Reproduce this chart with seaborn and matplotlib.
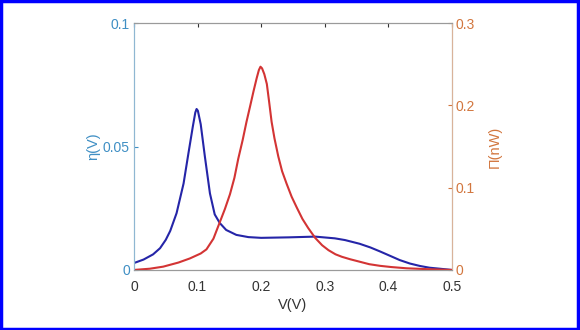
import numpy as np
import pandas as pd
import seaborn as sns
import matplotlib.pyplot as plt
from matplotlib.patches import Rectangle

sns.set_style("white")
plt.rcParams['font.family'] = ['Liberation Sans', 'DejaVu Sans']

# eta(V) curve
v_eta = [0.0, 0.015, 0.03, 0.041, 0.05, 0.057, 0.067, 0.078, 0.0855, 0.0925, 0.0965, 0.0985,
         0.1005, 0.105, 0.1115, 0.1195, 0.127, 0.135, 0.145, 0.161, 0.18, 0.2, 0.243, 0.285,
         0.316, 0.332, 0.355, 0.372, 0.387, 0.403, 0.418, 0.434, 0.45, 0.465, 0.481, 0.5]
eta = [0.0028, 0.0042, 0.0063, 0.0088, 0.0122, 0.0158, 0.023, 0.035, 0.047, 0.058, 0.0638,
       0.0652, 0.0645, 0.059, 0.046, 0.031, 0.0225, 0.019, 0.0162, 0.0142, 0.0133, 0.0130,
       0.0132, 0.0135, 0.0128, 0.0121, 0.0106, 0.0091, 0.0075, 0.0057, 0.004, 0.0026,
       0.0016, 0.0009, 0.0005, 0.0]

# Pi(V) power curve
v_pi = [0.0, 0.025, 0.046, 0.07, 0.088, 0.105, 0.114, 0.125, 0.135, 0.143, 0.151, 0.158,
        0.164, 0.171, 0.177, 0.183, 0.188, 0.193, 0.1965, 0.199, 0.2015, 0.205, 0.209,
        0.2125, 0.2165, 0.221, 0.227, 0.233, 0.24, 0.248, 0.256, 0.265, 0.274, 0.285,
        0.296, 0.306, 0.317, 0.327, 0.34, 0.355, 0.37, 0.387, 0.405, 0.429, 0.46, 0.5]
power = [0.0, 0.0015, 0.004, 0.009, 0.014, 0.02, 0.025, 0.038, 0.058, 0.074, 0.092, 0.112,
         0.135, 0.158, 0.18, 0.2, 0.217, 0.233, 0.243, 0.247, 0.245, 0.238, 0.226,
         0.205, 0.18, 0.16, 0.138, 0.12, 0.105, 0.089, 0.076, 0.062, 0.051, 0.039,
         0.03, 0.024, 0.019, 0.016, 0.013, 0.01, 0.007, 0.005, 0.0035, 0.002, 0.001, 0.0]

df_eta = pd.DataFrame({'V': v_eta, 'eta': eta})
df_pi = pd.DataFrame({'V': v_pi, 'P': power})

left_col = '#3f8fc4'
right_col = '#d2763e'
grey = '#9a9a9a'

fig = plt.figure(figsize=(5.8, 3.3), dpi=100)
ax = fig.add_axes([0.231, 0.182, 0.548, 0.748])
ax2 = ax.twinx()

sns.lineplot(data=df_eta, x='V', y='eta', ax=ax, color='#2525a8', lw=1.5)
sns.lineplot(data=df_pi, x='V', y='P', ax=ax2, color='#d33434', lw=1.5)

ax.set_xlim(0, 0.5)
ax.set_ylim(0, 0.1)
ax2.set_ylim(0, 0.3)
ax.set_xticks([0, 0.1, 0.2, 0.3, 0.4, 0.5])
ax.set_xticklabels(['0', '0.1', '0.2', '0.3', '0.4', '0.5'])
ax.set_yticks([0, 0.05, 0.1])
ax.set_yticklabels(['0', '0.05', '0.1'])
ax2.set_yticks([0, 0.1, 0.2, 0.3])
ax2.set_yticklabels(['0', '0.1', '0.2', '0.3'])

ax.set_xlabel('V(V)', fontsize=10.5, color='#333333', labelpad=3)
ax.set_ylabel('η(V)', fontsize=10.5, color=left_col, labelpad=2)
ax2.set_ylabel('Π(nW)', fontsize=10.5, color=right_col, labelpad=9)

ax.tick_params(axis='x', direction='in', length=3, labelsize=10, colors='#333333', pad=7,
               top=True)
ax.tick_params(axis='y', direction='in', length=3, labelsize=10, colors=left_col, pad=3)
ax2.tick_params(axis='y', direction='in', length=3, labelsize=10, colors=right_col, pad=3)

for a in (ax, ax2):
    for s in a.spines.values():
        s.set_color(grey)
        s.set_linewidth(0.8)
ax2.spines['left'].set_color('#8fb7d2')
ax2.spines['right'].set_color('#d9b39a')
ax.spines['left'].set_color('#8fb7d2')

# blue frame round the picture
fig.patches.append(Rectangle((0.002, 0.003), 0.995, 0.993, transform=fig.transFigure,
                             fill=False, edgecolor='#0000ff', lw=2.5))

fig.savefig('out.png', dpi=100)
